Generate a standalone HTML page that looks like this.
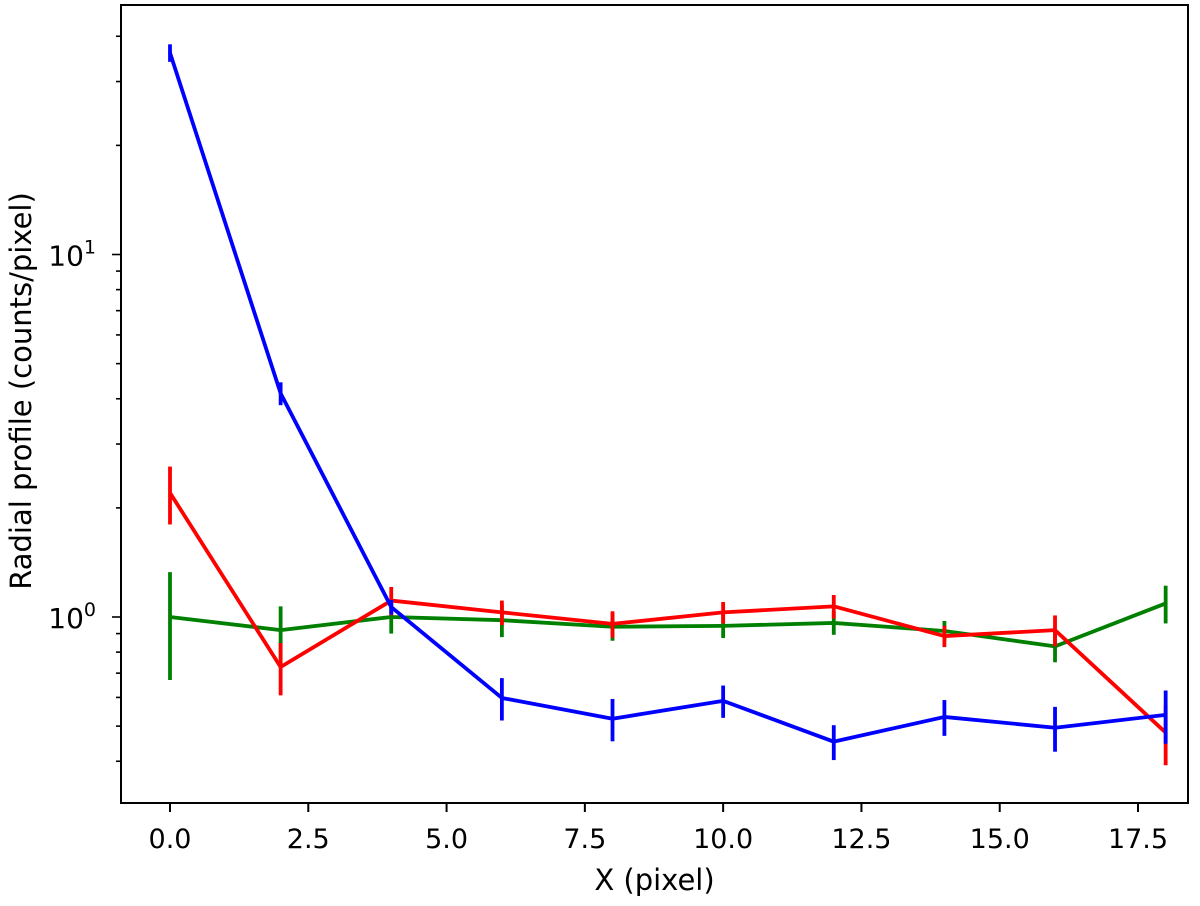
<!DOCTYPE html>
<html><head><meta charset="utf-8"><style>
body{margin:0;background:#fff;}
svg text{font-family:"DejaVu Sans","Liberation Sans",sans-serif;fill:#000;}
</style></head><body>
<svg id="chart" width="1200" height="901" xmlns="http://www.w3.org/2000/svg">
<g id="plot"></g>
</svg>
<script>
const xs = [0,2,4,6,8,10,12,14,16,18];
const blueVals = [36,4.14,1.065,0.598,0.524,0.587,0.453,0.530,0.495,0.537];
const blueErr = [2,0.3,0.05,0.08,0.07,0.06,0.05,0.06,0.07,0.09];
const redVals = [2.2,0.728,1.11,1.03,0.957,1.03,1.07,0.886,0.92,0.48];
const redErr = [0.4,0.12,0.1,0.08,0.08,0.07,0.08,0.06,0.09,0.09];
const greenVals = [1.0,0.92,1.0,0.98,0.94,0.945,0.963,0.915,0.83,1.09];
const greenErr = [0.33,0.15,0.1,0.1,0.08,0.07,0.07,0.06,0.08,0.13];
const xTicks = [0,2.5,5,7.5,10,12.5,15,17.5];
const xTickLabels = ["0.0","2.5","5.0","7.5","10.0","12.5","15.0","17.5"];

const NS="http://www.w3.org/2000/svg";
const L=121,R=1188,T=5,B=803;
const X=v=>170+v*(968/17.5);
const Y=v=>617-Math.log10(v)*362.5;
const g=document.getElementById('plot');
function el(t,a,p){const e=document.createElementNS(NS,t);for(const k in a)e.setAttribute(k,a[k]);(p||g).appendChild(e);return e;}

function series(vals,errs,color,name){
  const grp=el('g',{});
  
  
  const pts=xs.map((x,i)=>X(x)+','+Y(vals[i])).join(' ');
  const pl=el('polyline',{points:pts,fill:'none',stroke:color,'stroke-width':3.8,'stroke-linejoin':'round'},grp);
  
  
  xs.forEach((x,i)=>{
    const lo=Math.max(vals[i]-errs[i],0.01);
    const ln=el('line',{x1:X(x),x2:X(x),y1:Y(vals[i]+errs[i]),y2:Y(lo),stroke:color,'stroke-width':3.8},grp);
    
    
  });
}
series(greenVals,greenErr,'#008000','green');
series(redVals,redErr,'#ff0000','red');
series(blueVals,blueErr,'#0000ff','blue');

const frame=el('rect',{x:L,y:T,width:R-L,height:B-T,fill:'none',stroke:'#000','stroke-width':2});



xTicks.forEach((v,i)=>{
  el('line',{x1:X(v),x2:X(v),y1:B,y2:B+9,stroke:'#000','stroke-width':2});
  const t=el('text',{x:X(v),y:B+45,'text-anchor':'middle','font-size':27});
  t.textContent=xTickLabels[i];
  
  
});
for(let d=-1;d<=1;d++){
  for(let m=1;m<=9;m++){
    const v=m*Math.pow(10,d);
    const y=Y(v);
    if(y<T||y>B)continue;
    el('line',{x1:L-(m===1?9:5),x2:L,y1:y,y2:y,stroke:'#000','stroke-width':1.6});
    if(m===1){
      const t=el('text',{x:L-25,y:y+11,'text-anchor':'end','font-size':28});
      
      
      t.innerHTML='10<tspan dy="-12" font-size="19">'+d+'</tspan>';
    }
  }
}
const xt=el('text',{x:(L+R)/2,y:890,'text-anchor':'middle','font-size':29});
xt.textContent='X (pixel)';


const yt=el('text',{x:0,y:0,'text-anchor':'middle','font-size':29,transform:'translate(31,391) rotate(-90)'});
yt.textContent='Radial profile (counts/pixel)';


</script>
</body></html>
